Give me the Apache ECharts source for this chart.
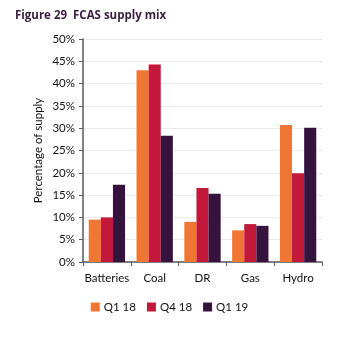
<!DOCTYPE html>
<html><head><meta charset="utf-8">
<script src="https://cdn.jsdelivr.net/npm/echarts@6/dist/echarts.min.js"></script>
<style>html,body{margin:0;padding:0;background:#fff}#c{width:339px;height:343px}</style>
</head><body><div id="c"></div>
<script>
const categories = ['Batteries', 'Coal', 'DR', 'Gas', 'Hydro'];
const seriesNames = ['Q1 18', 'Q4 18', 'Q1 19'];
const q1_18 = [9.5, 43.0, 9.0, 7.1, 30.7];
const q4_18 = [10.0, 44.3, 16.6, 8.5, 19.9];
const q1_19 = [17.3, 28.3, 15.3, 8.1, 30.1];
const colors = ['#EF7733', '#C2183A', '#36133C'];
const FONT = 'Lato, sans-serif';
const chart = echarts.init(document.getElementById('c'), null, {renderer: 'canvas'});
const data = [q1_18, q4_18, q1_19];
chart.setOption({
  animation: false,
  title: {
    text: 'Figure 29  FCAS supply mix', left: 10, top: 5,
    textStyle: {fontFamily: '"Open Sans", sans-serif', fontSize: 11.5, fontWeight: 'bold', color: '#3A1D3E'}
  },
  legend: {
    data: seriesNames, bottom: 25, left: 'center',
    itemWidth: 9, itemHeight: 9, itemGap: 11, icon: 'rect',
    textStyle: {fontFamily: FONT, fontSize: 11.5, color: '#111', padding: [0, 0, 0, -1]}
  },
  grid: {left: 83, right: 17, top: 39, bottom: 81},
  xAxis: {
    type: 'category', data: categories,
    axisLine: {lineStyle: {color: '#595959', width: 1.5}},
    axisTick: {show: true, length: 4, lineStyle: {color: '#595959'}, alignWithLabel: false},
    axisLabel: {fontFamily: FONT, fontSize: 11.5, color: '#111', margin: 10, interval: 0}
  },
  yAxis: {
    type: 'value', min: 0, max: 50, interval: 5,
    name: 'Percentage of supply', nameLocation: 'middle', nameGap: 45, nameRotate: 90,
    nameMoveOverlap: false,
    nameTextStyle: {fontFamily: FONT, fontSize: 11.5, color: '#111', verticalAlign: 'middle'},
    axisLine: {show: true, lineStyle: {color: '#595959', width: 1.5}},
    axisTick: {show: true, length: 4, lineStyle: {color: '#595959'}},
    axisLabel: {fontFamily: FONT, fontSize: 11.5, color: '#111', margin: 8, formatter: '{value}%'},
    splitLine: {lineStyle: {color: '#EBEBEB'}}
  },
  series: seriesNames.map((n, i) => ({
    name: n, type: 'bar', data: data[i], barGap: '0%', barCategoryGap: '24%',
    itemStyle: {color: colors[i]}
  }))
});
</script></body></html>
